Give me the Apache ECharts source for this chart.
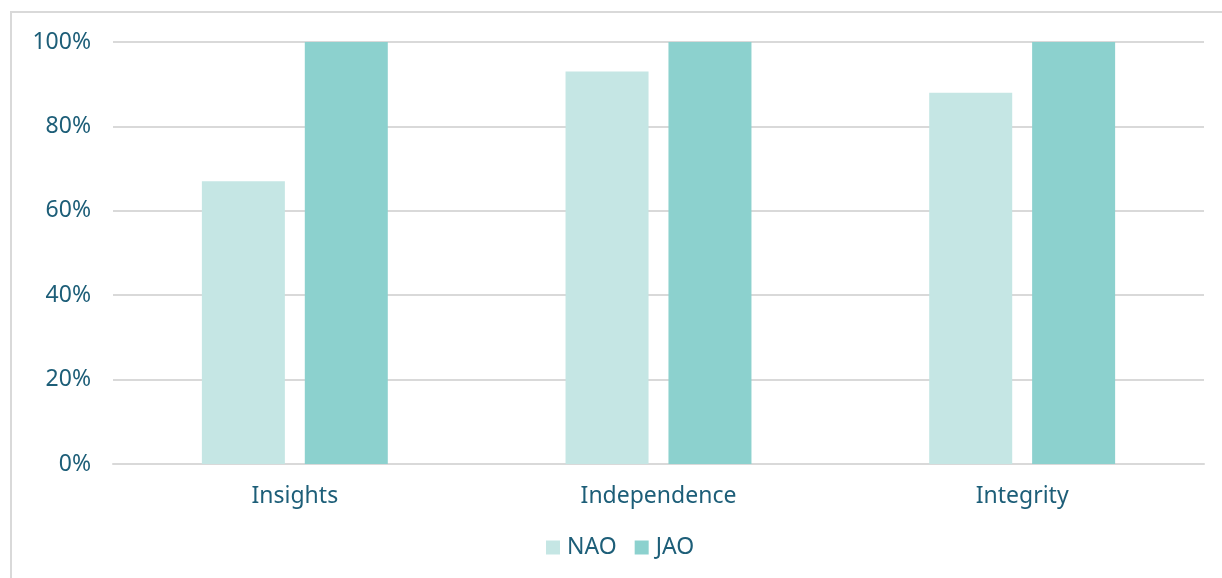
<!DOCTYPE html>
<html>
<head>
<meta charset="utf-8">
<script src="https://cdn.jsdelivr.net/npm/echarts@6/dist/echarts.min.js"></script>
<style>
  html, body { margin: 0; padding: 0; background: #fff; }
  #chart { width: 1222px; height: 578px; }
</style>
</head>
<body>
<div id="chart"></div>
<script>
// Share of criteria met, by office
const categories = ['Insights', 'Independence', 'Integrity'];
const naoValues = [67, 93, 88];
const jaoValues = [100, 100, 100];
const yTicks = [0, 20, 40, 60, 80, 100];

const textColor = '#1d5e78';
const fontFamily = '"Noto Sans", "Open Sans", sans-serif';

const chart = echarts.init(document.getElementById('chart'));
chart.setOption({
  animation: false,
  textStyle: { fontFamily: fontFamily },
  graphic: [{
    type: 'rect',
    shape: { x: 11, y: 12, width: 1400, height: 800 },
    style: { fill: 'none', stroke: '#d9d9d9', lineWidth: 2 },
    silent: true
  }],
  grid: { left: 113, right: 18, top: 42, bottom: 114 },
  legend: {
    bottom: 14,
    left: 541,
    itemWidth: 14,
    itemHeight: 14,
    itemGap: 18,
    icon: 'rect',
    textStyle: { color: textColor, fontSize: 23, fontFamily: fontFamily, padding: [0, 0, 0, 2] },
    data: ['NAO', 'JAO']
  },
  xAxis: {
    type: 'category',
    data: categories,
    axisLine: { show: true, lineStyle: { color: '#d9d9d9', width: 2 } },
    axisTick: { show: false },
    axisLabel: { color: textColor, fontSize: 23, margin: 21, fontFamily: fontFamily }
  },
  yAxis: {
    type: 'value',
    min: yTicks[0],
    max: yTicks[yTicks.length - 1],
    interval: 20,
    axisLine: { show: false },
    axisTick: { show: false },
    splitLine: { lineStyle: { color: '#d9d9d9', width: 2 } },
    axisLabel: {
      color: textColor, fontSize: 23, margin: 22, fontFamily: fontFamily,
      formatter: v => v + '%'
    }
  },
  series: [
    {
      name: 'NAO',
      type: 'bar',
      data: naoValues,
      barWidth: 83,
      barGap: '24%',
      itemStyle: { color: '#c5e6e4' }
    },
    {
      name: 'JAO',
      type: 'bar',
      data: jaoValues,
      barWidth: 83,
      itemStyle: { color: '#8cd1ce' }
    }
  ]
});
</script>
</body>
</html>
